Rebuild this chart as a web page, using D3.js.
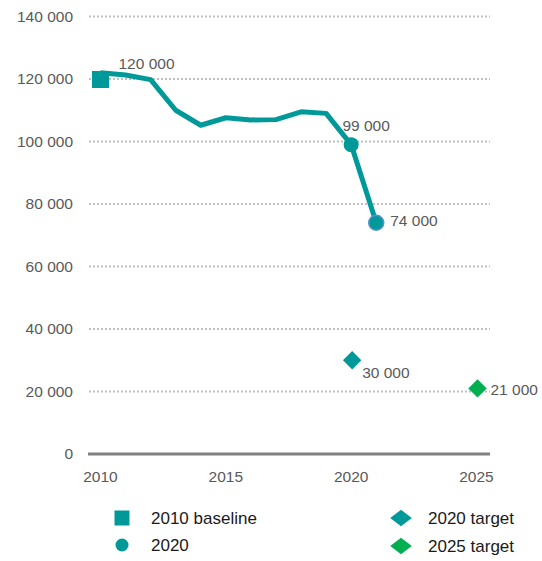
<!DOCTYPE html>
<html>
<head>
<meta charset="utf-8">
<script src="https://cdn.jsdelivr.net/npm/d3@7"></script>
<style>
  body { margin: 0; background: #fff; }
  svg text { font-family: "Liberation Sans", Arial, sans-serif; fill: #595959; }
</style>
</head>
<body>
<div id="chart"></div>
<script>
// data
const years = [2010, 2011, 2012, 2013, 2014, 2015, 2016, 2017, 2018, 2019, 2020, 2021];
const totals = [122000, 121300, 119800, 110000, 105200, 107600, 106900, 107000, 109500, 109000, 99000, 74000];
const baseline = { year: 2010, value: 120000, label: "120 000" };
const point2020 = { year: 2020, value: 99000, label: "99 000" };
const point2021 = { year: 2021, value: 74000, label: "74 000" };
const targets = [
    { year: 2020, value: 30000, label: "30 000", color: "#00999a" },
    { year: 2025, value: 21000, label: "21 000", color: "#00b050" }
];
const yTicks = [0, 20000, 40000, 60000, 80000, 100000, 120000, 140000];
const xTicks = [2010, 2015, 2020, 2025];
const legendItems = [
    { label: "2010 baseline", shape: "square", color: "#00999a" },
    { label: "2020", shape: "circle", color: "#00999a" },
    { label: "2020 target", shape: "diamond", color: "#00999a" },
    { label: "2025 target", shape: "diamond", color: "#00b050" }
];

const teal = "#00999a";
const width = 542, height = 561;
const fontSize = "15.5px";

const svg = d3.select("#chart")
    .append("svg")
    .attr("width", width)
    .attr("height", height);

const x = d3.scaleLinear().domain([2010, 2025]).range([100.5, 476.5]);
const y = d3.scaleLinear().domain([0, 140000]).range([454, 16.5]);
const fmt = v => d3.format(",")(v).replace(/,/g, " ");

// gridlines
svg.append("g")
    .selectAll("line")
    .data(yTicks.filter(d => d > 0))
    .join("line")
    .attr("x1", 89).attr("x2", 490)
    .attr("y1", d => y(d)).attr("y2", d => y(d))
    .attr("stroke", "#c0c0c0")
    .attr("stroke-width", 2)
    .attr("stroke-dasharray", "2,2");

// y axis labels
svg.append("g")
    .selectAll("text")
    .data(yTicks)
    .join("text")
    .attr("x", 73)
    .attr("y", d => y(d))
    .attr("dy", "0.35em")
    .attr("text-anchor", "end")
    .style("font-size", fontSize)
    .text(fmt);

// x axis
svg.append("line")
    .attr("x1", 88).attr("x2", 490)
    .attr("y1", y(0)).attr("y2", y(0))
    .attr("stroke", "#808080")
    .attr("stroke-width", 3);

svg.append("g")
    .selectAll("text")
    .data(xTicks)
    .join("text")
    .attr("x", d => x(d))
    .attr("y", 482)
    .attr("text-anchor", "middle")
    .style("font-size", fontSize)
    .text(d => d);

// main line
const line = d3.line()
    .x(d => x(d[0]))
    .y(d => y(d[1]));

svg.append("path")
    .datum(d3.zip(years, totals))
    .attr("d", line)
    .attr("fill", "none")
    .attr("stroke", teal)
    .attr("stroke-width", 5)
    .attr("stroke-linejoin", "round");

// markers
svg.append("rect")
    .attr("x", x(baseline.year) - 8.5)
    .attr("y", y(baseline.value) - 8)
    .attr("width", 17).attr("height", 17)
    .attr("fill", teal);

svg.append("circle")
    .attr("cx", x(point2020.year))
    .attr("cy", y(point2020.value))
    .attr("r", 7.5)
    .attr("fill", teal);

svg.append("circle")
    .attr("cx", x(point2021.year))
    .attr("cy", y(point2021.value))
    .attr("r", 7.5)
    .attr("fill", teal)
    .attr("stroke", "#5b8fd0")
    .attr("stroke-width", 1.5);

svg.append("g")
    .selectAll("path")
    .data(targets)
    .join("path")
    .attr("d", d3.symbol().type(d3.symbolSquare).size(170))
    .attr("transform", d => `translate(${x(d.year) + 1},${y(d.value)}) rotate(45)`)
    .attr("fill", d => d.color);

// value labels
const labels = [
    { text: baseline.label, x: x(baseline.year) + 18, y: y(baseline.value) - 15, anchor: "start" },
    { text: point2020.label, x: x(point2020.year) + 15, y: y(point2020.value) - 19, anchor: "middle" },
    { text: point2021.label, x: x(point2021.year) + 14, y: y(point2021.value) - 2, anchor: "start" },
    { text: targets[0].label, x: x(targets[0].year) + 11, y: y(targets[0].value) + 12, anchor: "start" },
    { text: targets[1].label, x: x(targets[1].year) + 14, y: y(targets[1].value) + 1, anchor: "start" }
];

svg.append("g")
    .selectAll("text")
    .data(labels)
    .join("text")
    .attr("x", d => d.x)
    .attr("y", d => d.y)
    .attr("dy", "0.35em")
    .attr("text-anchor", d => d.anchor)
    .style("font-size", fontSize)
    .text(d => d.text);

// legend
const legendPos = [
    { x: 122, y: 518 }, { x: 122, y: 545 },
    { x: 401, y: 518 }, { x: 401, y: 546 }
];

const legend = svg.append("g")
    .selectAll("g")
    .data(legendItems)
    .join("g")
    .attr("transform", (d, i) => `translate(${legendPos[i].x},${legendPos[i].y})`);

legend.each(function (d) {
    const g = d3.select(this);
    if (d.shape === "square") {
        g.append("rect").attr("x", -7.5).attr("y", -7.5).attr("width", 15).attr("height", 15).attr("fill", d.color);
    } else if (d.shape === "circle") {
        g.append("circle").attr("r", 6.5).attr("fill", d.color);
    } else {
        g.append("path")
            .attr("d", d3.symbol().type(d3.symbolSquare).size(150))
            .attr("transform", "scale(1.25,0.95) rotate(45)")
            .attr("fill", d.color);
    }
});

legend.append("text")
    .attr("x", (d, i) => i < 2 ? 29 : 27)
    .attr("y", 0)
    .attr("dy", "0.35em")
    .style("font-size", "17px")
    .style("fill", "#1a1a1a")
    .text(d => d.label);
</script>
</body>
</html>
